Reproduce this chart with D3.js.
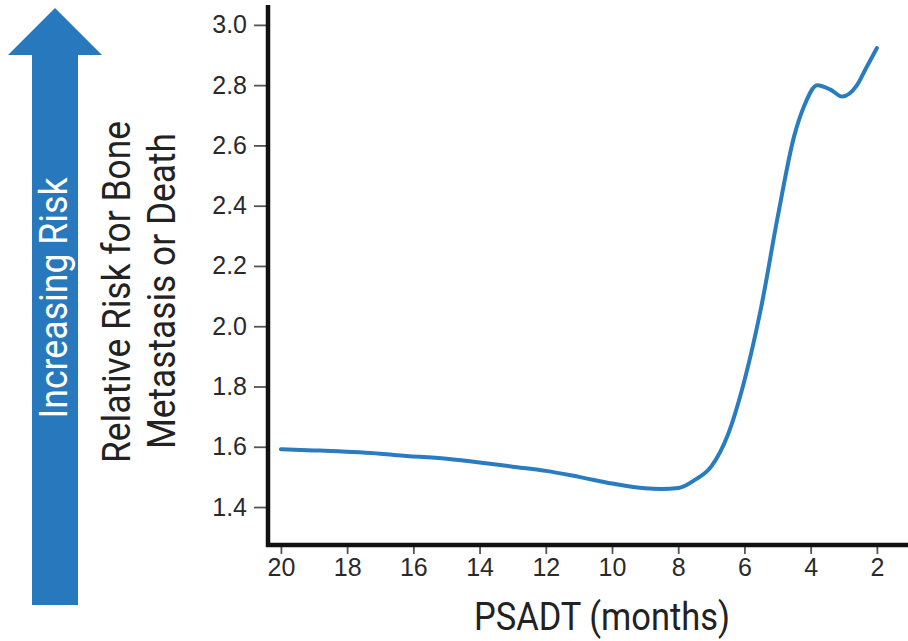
<!DOCTYPE html>
<html>
<head>
<meta charset="utf-8">
<script src="https://cdn.jsdelivr.net/npm/d3@7"></script>
<style>
  html, body { margin: 0; padding: 0; background: #fff; }
  svg { display: block; }
</style>
</head>
<body>
<svg id="chart" width="908" height="641"></svg>
<script>
// PSADT in months (x) and relative risk (y) along the fitted curve
const months = [20, 19, 18.5, 17, 16.5, 15, 14, 13, 12, 11, 10, 9, 8.5, 8, 7.5, 7, 6.5, 6, 5.5, 5, 4.5, 4.2, 3.8, 3.4, 3.05, 2.6, 2.3, 2.0];
const risk   = [1.592, 1.588, 1.586, 1.577, 1.572, 1.56, 1.548, 1.534, 1.52, 1.5, 1.478, 1.462, 1.46, 1.463, 1.49, 1.535, 1.64, 1.82, 2.06, 2.36, 2.63, 2.73, 2.80, 2.785, 2.762, 2.80, 2.862, 2.923];

const xTicks = [20, 18, 16, 14, 12, 10, 8, 6, 4, 2];
const yTicks = [1.4, 1.6, 1.8, 2.0, 2.2, 2.4, 2.6, 2.8, 3.0];

const svg = d3.select("#chart");
const blue = "#2878be";
const condensed = "Roboto, 'Liberation Sans', Arial, sans-serif";
const regular = "'Liberation Sans', Arial, Helvetica, sans-serif";

const x = d3.scaleLinear().domain([20.39, 1.06]).range([268, 908]);
const y = d3.scaleLinear().domain([1.274, 3.066]).range([545, 5]);

// "Increasing Risk" arrow
const arrow = d3.path();
arrow.moveTo(55, 8);
arrow.lineTo(102, 55);
arrow.lineTo(78, 55);
arrow.lineTo(78, 605);
arrow.lineTo(32, 605);
arrow.lineTo(32, 55);
arrow.lineTo(8, 55);
arrow.closePath();
svg.append("path").attr("d", arrow.toString()).attr("fill", blue);

svg.append("text")
  .attr("transform", "translate(67,298) rotate(-90)")
  .attr("text-anchor", "middle")
  .attr("font-family", condensed)
  .attr("font-size", 39)
  .attr("fill", "#fff")
  .attr("textLength", 241)
  .attr("lengthAdjust", "spacingAndGlyphs")
  .text("Increasing Risk");

// Y axis title (two lines)
const yTitle = svg.append("g")
  .attr("font-family", condensed)
  .attr("font-size", 39)
  .attr("fill", "#222")
  .attr("text-anchor", "middle");
yTitle.append("text")
  .attr("transform", "translate(130,292) rotate(-90)")
  .attr("textLength", 342)
  .attr("lengthAdjust", "spacingAndGlyphs")
  .text("Relative Risk for Bone");
yTitle.append("text")
  .attr("transform", "translate(175,291) rotate(-90)")
  .attr("textLength", 316)
  .attr("lengthAdjust", "spacingAndGlyphs")
  .text("Metastasis or Death");

// Axes: ticks and labels from d3.axis, heavy black spines drawn separately
const yAxis = svg.append("g")
  .attr("transform", "translate(267,0)")
  .call(d3.axisLeft(y).tickValues(yTicks).tickFormat(d3.format(".1f")).tickSize(13).tickPadding(7));
const xAxis = svg.append("g")
  .attr("transform", "translate(0,545)")
  .call(d3.axisBottom(x).tickValues(xTicks).tickFormat(d3.format("d")).tickSize(9).tickPadding(4));

[yAxis, xAxis].forEach(g => {
  g.select(".domain").remove();
  g.selectAll(".tick line").attr("stroke", "#555").attr("stroke-width", 1.8);
  g.selectAll(".tick text")
    .attr("font-family", regular)
    .attr("font-size", 25)
    .attr("fill", "#2a2a2a");
});

svg.append("path")
  .attr("d", `M${x.range()[0]},${y.range()[1]}V${y.range()[0]}H${x.range()[1]}`)
  .attr("fill", "none")
  .attr("stroke", "#111")
  .attr("stroke-width", 4.5)
  .attr("stroke-linejoin", "miter");

// Risk curve
const points = months.map((m, i) => [m, risk[i]]);
const line = d3.line()
  .x(d => x(d[0]))
  .y(d => y(d[1]))
  .curve(d3.curveMonotoneX);
svg.append("path")
  .datum(points)
  .attr("d", line)
  .attr("fill", "none")
  .attr("stroke", "#2a7cc0")
  .attr("stroke-width", 4)
  .attr("stroke-linecap", "round");

// X axis title
svg.append("text")
  .attr("x", 602)
  .attr("y", 630)
  .attr("text-anchor", "middle")
  .attr("font-family", condensed)
  .attr("font-size", 38)
  .attr("fill", "#222")
  .attr("textLength", 256)
  .attr("lengthAdjust", "spacingAndGlyphs")
  .text("PSADT (months)");
</script>
</body>
</html>
